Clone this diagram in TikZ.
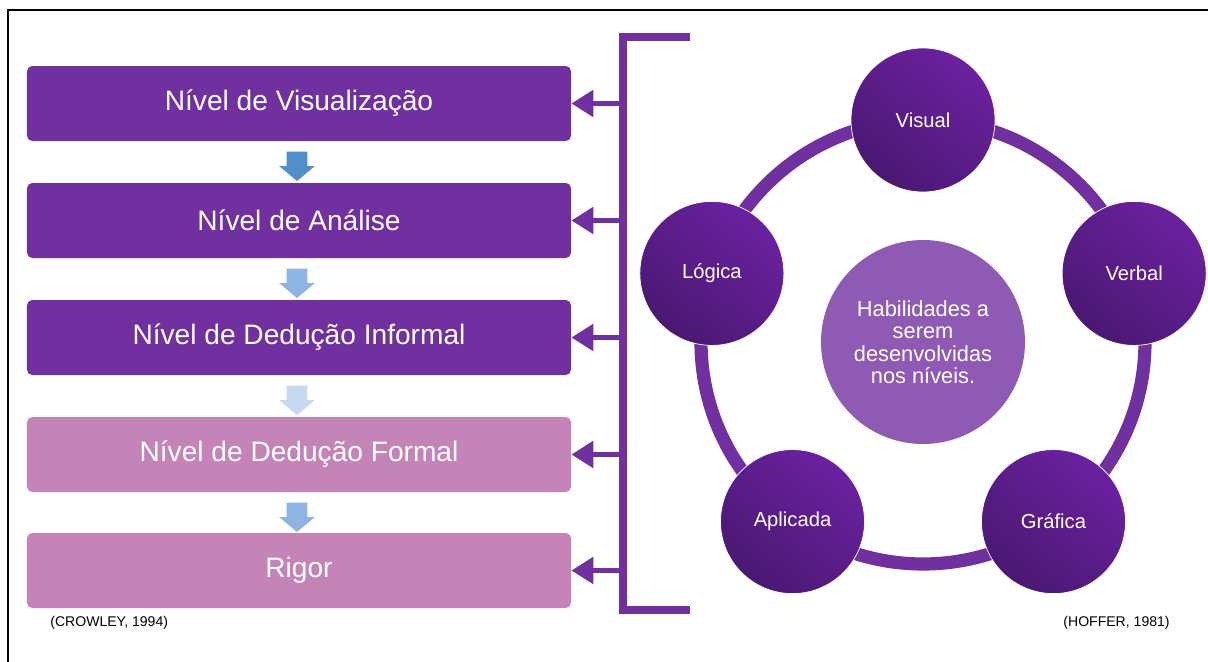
\documentclass[tikz,border=0pt]{standalone}
\usepackage{fontspec}
\setmainfont{Liberation Sans}
\usepackage{tikz}
\usetikzlibrary{shapes,arrows.meta,calc}
\usepackage{xcolor}

\definecolor{roxo}{HTML}{7030A0}
\definecolor{rosa}{HTML}{C484B8}
\definecolor{roxoclaro}{HTML}{8E5AB4}
\definecolor{roxotopo}{HTML}{6B21A0}
\definecolor{roxobase}{HTML}{4A1872}
\definecolor{azul1}{HTML}{4F8FCB}
\definecolor{azul2}{HTML}{8EB4E3}
\definecolor{azul3}{HTML}{C5D9F1}

\begin{document}
\begin{tikzpicture}

\tikzstyle{nivel} = [rectangle, rounded corners=3pt, minimum width=10.88cm, minimum height=1.5cm, text=white, font=\fontsize{16}{19}\selectfont]
\tikzstyle{seta} = [single arrow, shape border rotate=270, inner sep=0.2cm, minimum height=0.58cm, single arrow head extend=0.15cm, single arrow tip angle=100]
\tikzstyle{hab} = [circle, draw=white, thin, minimum size=2.88cm, inner sep=0pt, text=white, top color=roxotopo, bottom color=roxobase, shading angle=-40, font=\fontsize{11.5}{13}\selectfont]
\tikzstyle{ref} = [font=\fontsize{8}{9}\selectfont, inner sep=0pt]

\useasboundingbox (0,0) rectangle (24.16,-13.22);
\draw[line width=1.2pt] (0.16,-13.4) -- (0.16,-0.2) -- (24.4,-0.2);

\node[nivel, fill=roxo] (v1) at (5.98,-2.07) {Nível de Visualização};
\node[nivel, fill=roxo] (v2) at (5.98,-4.41) {Nível de Análise};
\node[nivel, fill=roxo] (v3) at (5.98,-6.75) {Nível de Dedução Informal};
\node[nivel, fill=rosa] (v4) at (5.98,-9.09) {Nível de Dedução Formal};
\node[nivel, fill=rosa] (v5) at (5.98,-11.41) {Rigor};

\node[seta, fill=azul1] (s1) at (5.94,-3.24) {};
\node[seta, fill=azul2] (s2) at (5.94,-5.58) {};
\node[seta, fill=azul3] (s3) at (5.94,-7.92) {};
\node[seta, fill=azul2] (s4) at (5.94,-10.26) {};

\coordinate (ca) at (13.8,-0.74);
\coordinate (cb) at (12.46,-0.74);
\coordinate (cc) at (12.46,-12.2);
\coordinate (cd) at (13.8,-12.2);
\coordinate (b1) at (12.46,-2.07);
\coordinate (b2) at (12.46,-4.41);
\coordinate (b3) at (12.46,-6.75);
\coordinate (b4) at (12.46,-9.09);
\coordinate (b5) at (12.46,-11.41);

\draw[roxo, line width=4pt, line join=miter] (ca) -- (cb) -- (cc) -- (cd);
\draw[roxo, line width=3pt, -{Triangle[length=0.44cm,width=0.52cm]}] (b1) -- (v1);
\draw[roxo, line width=3pt, -{Triangle[length=0.44cm,width=0.52cm]}] (b2) -- (v2);
\draw[roxo, line width=3pt, -{Triangle[length=0.44cm,width=0.52cm]}] (b3) -- (v3);
\draw[roxo, line width=3pt, -{Triangle[length=0.44cm,width=0.52cm]}] (b4) -- (v4);
\draw[roxo, line width=3pt, -{Triangle[length=0.44cm,width=0.52cm]}] (b5) -- (v5);

\coordinate (o) at (18.46,-6.84);
\draw[roxo, line width=7.5pt] (o) circle (4.44cm);

\node[circle, fill=roxoclaro, minimum size=4.08cm, text=white, align=center, font=\fontsize{12.4}{12.8}\selectfont] (h) at (o) {Habilidades a\\serem\\desenvolvidas\\nos níveis.};

\node[hab] (c1) at ($(o)+(90:4.44)$) {Visual};
\node[hab] (c2) at ($(o)+(18:4.44)$) {Verbal};
\node[hab] (c3) at ($(o)+(-54:4.44)$) {Gráfica};
\node[hab] (c4) at ($(o)+(-126:4.44)$) {Aplicada};
\node[hab] (c5) at ($(o)+(162:4.44)$) {Lógica};

\node[ref, anchor=west] (r1) at (1.0,-12.46) {(CROWLEY, 1994)};
\node[ref, anchor=east] (r2) at (23.4,-12.46) {(HOFFER, 1981)};
\end{tikzpicture}
\end{document}
